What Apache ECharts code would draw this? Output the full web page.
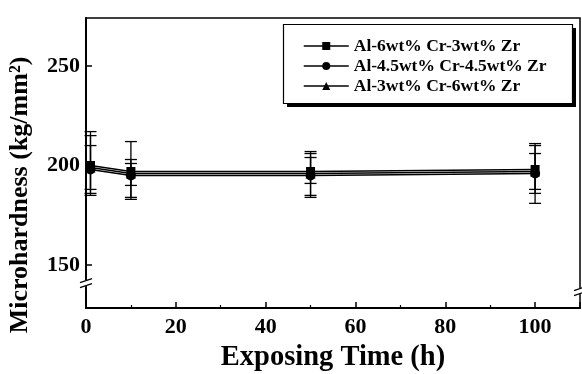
<!DOCTYPE html>
<html><head><meta charset="utf-8">
<script src="https://cdn.jsdelivr.net/npm/echarts@6/dist/echarts.min.js"></script>
<style>html,body{margin:0;padding:0;background:#fff}#c{width:582px;height:374px}</style>
</head><body><div id="c"></div>
<script>
var times = [1, 10, 50, 100];
var names = ['Al-6wt% Cr-3wt% Zr', 'Al-4.5wt% Cr-4.5wt% Zr', 'Al-3wt% Cr-6wt% Zr'];
var symbols = ['rect', 'circle', 'triangle'];
var s1 = [200, 197, 197, 198];
var s2 = [198, 195, 195, 196];
var s3 = [199, 196, 196, 197];
var s1Low = [188, 190, 191, 188];
var s1High = [217, 212, 207, 211];
var s2Low = [186, 183, 185, 181];
var s2High = [210, 203, 204, 206];
var s3Low = [185, 184, 184, 186];
var s3High = [215, 201, 206, 210];
var xTicks = [0, 20, 40, 60, 80, 100];
var yTicks = [150, 200, 250];

var values = [s1, s2, s3];
var lows = [s1Low, s2Low, s3Low];
var highs = [s1High, s2High, s3High];
var F = '"Liberation Serif","DejaVu Serif",serif';

var chart = echarts.init(document.getElementById('c'), null, {renderer: 'canvas'});
var series = [];
for (var k = 0; k < 3; k++) {
  series.push({
    name: names[k], type: 'line', symbol: symbols[k], symbolSize: k === 0 ? 9 : 10,
    data: times.map(function (t, i) { return [t, values[k][i]]; }),
    itemStyle: {color: '#000'}, lineStyle: {color: '#000', width: 1.5}, z: 5
  });
  series.push({
    name: names[k] + ' err', type: 'custom',
    data: times.map(function (t, i) { return [t, lows[k][i], highs[k][i]]; }),
    renderItem: function (params, api) {
      var lo = api.coord([api.value(0), api.value(1)]);
      var hi = api.coord([api.value(0), api.value(2)]);
      var w = 6;
      var st = {stroke: '#000', lineWidth: 1.3};
      return {type: 'group', children: [
        {type: 'line', shape: {x1: lo[0], y1: lo[1], x2: hi[0], y2: hi[1]}, style: st},
        {type: 'line', shape: {x1: lo[0] - w, y1: lo[1], x2: lo[0] + w, y2: lo[1]}, style: st},
        {type: 'line', shape: {x1: hi[0] - w, y1: hi[1], x2: hi[0] + w, y2: hi[1]}, style: st}
      ]};
    },
    encode: {x: 0, y: [1, 2]}, z: 4, silent: true
  });
}

chart.setOption({
  animation: false,
  grid: {left: 86, right: 2, top: 18, bottom: 66, show: true, borderColor: '#000', borderWidth: 1.5,
    containLabel: false, outerBoundsMode: 'none'},
  legend: {
    data: names, orient: 'vertical', left: 303, top: 37,
    padding: 0, itemGap: 2, itemWidth: 45, itemHeight: 10, z: 20,
    textStyle: {fontFamily: F, fontWeight: 'bold', fontSize: 17.5, color: '#000', lineHeight: 16},
    itemStyle: {color: '#000'}, lineStyle: {color: '#000', width: 1.5}
  },
  xAxis: {
    type: 'value', min: 0, max: 110, interval: 20,
    name: 'Exposing Time (h)', nameLocation: 'middle', nameGap: 23,
    nameTextStyle: {fontFamily: F, fontWeight: 'bold', fontSize: 28.5, color: '#000'},
    axisLine: {show: true, onZero: false, lineStyle: {color: '#000', width: 2}},
    axisTick: {show: true, inside: true, length: 6, lineStyle: {color: '#000', width: 1.5}},
    minorTick: {show: true, splitNumber: 2, length: 3, lineStyle: {color: '#000', width: 1.2}},
    axisLabel: {fontFamily: F, fontWeight: 'bold', fontSize: 22, color: '#000', margin: 8,
      customValues: xTicks},
    splitLine: {show: false}
  },
  yAxis: {
    type: 'value', min: 128.5, max: 274,
    axisLine: {show: true, onZero: false, lineStyle: {color: '#000', width: 2}},
    axisTick: {show: true, inside: true, length: 6, lineStyle: {color: '#000', width: 1.5}, customValues: yTicks},
    axisLabel: {fontFamily: F, fontWeight: 'bold', fontSize: 22, color: '#000', margin: 6, customValues: yTicks},
    splitLine: {show: false}
  },
  series: series
});

function brk(xv, yv) {
  var p = chart.convertToPixel({gridIndex: 0}, [xv, yv]);
  var els = [];
  els.push({type: 'rect', shape: {x: p[0] - 4, y: p[1] - 3, width: 8, height: 6}, style: {fill: '#fff'}, z: 100});
  [-2.5, 2.5].forEach(function (d) {
    els.push({type: 'line', shape: {x1: p[0] - 6, y1: p[1] + d + 2, x2: p[0] + 6, y2: p[1] + d - 2},
      style: {stroke: '#000', lineWidth: 1.3}, z: 101});
  });
  return els;
}
var g = brk(0, 141).concat(brk(110, 137));
g.push({type: 'rect', shape: {x: 287, y: 28, width: 289, height: 79}, style: {fill: '#000'}, z: 10});
g.push({type: 'rect', shape: {x: 283.5, y: 24.5, width: 289, height: 79}, style: {fill: '#fff', stroke: '#000', lineWidth: 1.2}, z: 11});
g.push({type: 'text', x: 20, y: 195, rotation: Math.PI / 2, z: 10,
  style: {text: 'Microhardness (kg/mm²)', align: 'center', verticalAlign: 'middle',
    font: 'bold 26px ' + F, fill: '#000'}});
chart.setOption({graphic: g});
</script></body></html>
